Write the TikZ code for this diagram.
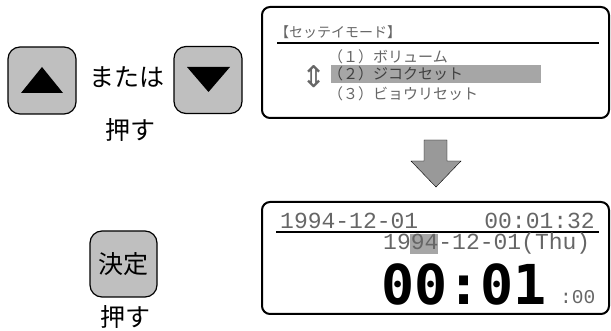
\documentclass[tikz,border=0pt]{standalone}
\usepackage{fontspec}
\setmainfont{Noto Sans CJK JP}
\newfontfamily\lcdfont{Liberation Mono}
\newfontfamily\bigfont{DejaVu Sans Mono}
\newfontfamily\symfont{DejaVu Sans}

\tikzset{
    botao/.style={draw, line width=1.2pt, rounded corners=12pt, fill=black!25,
        minimum width=68pt, minimum height=67pt, inner sep=0pt},
    tela/.style={draw, line width=2pt, rounded corners=8pt},
    texto/.style={inner sep=0pt, font=\fontsize{25}{25}\selectfont},
    lcd/.style={inner sep=0pt, text=black!60}
}

\begin{document}
\begin{tikzpicture}[x=1pt, y=-1pt]

    \useasboundingbox (0,0) rectangle (611,331);

    % botoes de cima
    \node[botao] (cima) at (42,80.5) {};
    \fill (21,93) -- (63,93) -- (42,67) -- cycle;

    \node[botao] (baixo) at (208,80) {};
    \fill (187,67) -- (230,67) -- (208.5,92) -- cycle;

    \node[texto] (ou) at (127,77) {または};

    \node[texto] (aperte1) at (130,130) {押す};

    % botao decidir
    \node[botao, minimum width=67pt, minimum height=66pt, texto]
        (decidir) at (123.5,264) {決定};

    \node[texto] (aperte2) at (125,317) {押す};

    % tela de menu
    \draw[tela] (262,7) rectangle (609,118);

    \node[lcd, anchor=west, font=\fontsize{14}{14}\selectfont]
        (titulo) at (275,32) {【セッテイモード】};
    \draw[line width=2pt] (277,43) -- (599,43);

    \node[lcd, font=\symfont\fontsize{30}{30}\selectfont]
        (setas) at (314,77) {⇕};

    \fill[black!35] (331,65) rectangle (541,83);

    \node[lcd, anchor=west, font=\fontsize{15}{15}\selectfont]
        (item1) at (328,57) {（１）ボリューム};

    \node[lcd, anchor=west, text=black!75, font=\fontsize{15}{15}\selectfont]
        (item2) at (328,74) {（２）ジコクセット};

    \node[lcd, anchor=west, font=\fontsize{15}{15}\selectfont]
        (item3) at (328,94) {（３）ビョウリセット};

    % seta
    \draw[fill=black!40] (424,140) -- (447,140) -- (447,161) -- (461,161)
        -- (436,187) -- (411,161) -- (424,161) -- cycle;

    % tela do relogio
    \draw[tela] (262,202) rectangle (609,314);

    \node[lcd, anchor=west, font=\lcdfont\fontsize{23}{23}\selectfont]
        (data) at (280,221) {1994-12-01};

    \node[lcd, anchor=east, font=\lcdfont\fontsize{23}{23}\selectfont]
        (hora) at (595,221) {00:01:32};

    \draw[line width=2pt] (276,232) -- (599,232);

    \fill[black!35] (410,234) rectangle (438,254);

    \node[lcd, anchor=west, font=\lcdfont\fontsize{23}{23}\selectfont]
        (dia) at (383,244) {1994-12-01(Thu)};

    \node[inner sep=0pt, anchor=west, font=\bigfont\bfseries\fontsize{55}{55}\selectfont]
        (minutos) at (381,284) {00:01};

    \node[lcd, anchor=west, font=\lcdfont\fontsize{19.5}{19.5}\selectfont]
        (segundos) at (560,297) {:00};

\end{tikzpicture}
\end{document}
